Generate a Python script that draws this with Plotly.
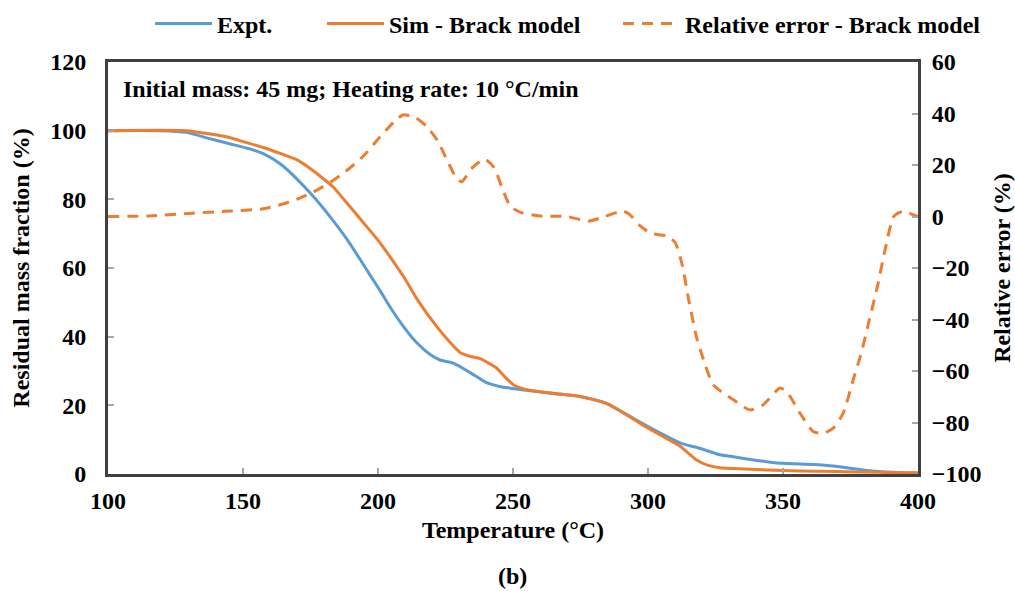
import plotly.graph_objects as go

# ---------------- data ----------------
temp_expt = [100, 119, 129, 138, 145, 152, 157.5, 164, 170, 176, 182, 188.4, 194.6, 197, 200.7,
             205, 209.4, 214, 219.3, 223, 227.9, 234, 240.2, 245, 249, 258.8, 266, 274.8,
             284.7, 293.3, 299.5, 306, 312, 319, 326.7, 331.6, 338, 344, 350, 356.3, 362,
             368.6, 374.8, 381, 388, 395, 400]
mass_expt = [100, 100, 99.5, 97.6, 96.2, 94.8, 93.3, 90.2, 85.9, 80.9, 75.2, 68.5, 61.0, 58.0, 53.5,
             48.0, 43.0, 38.5, 34.8, 33.2, 32.3, 29.6, 26.6, 25.5, 25.0, 24.0, 23.4, 22.6,
             20.6, 16.8, 14.0, 11.3, 9.0, 7.5, 5.6, 5.0, 4.2, 3.6, 3.1, 2.9, 2.8,
             2.3, 1.7, 1.0, 0.6, 0.4, 0.3]

temp_sim = [100, 129, 138, 145, 151, 157.5, 164, 170, 174, 178.5, 183.4, 188.4, 194.6, 200.7,
            206.9, 209.4, 215, 221.7, 226.5, 230.4, 234, 237.8, 241, 244, 247, 250.1, 254,
            258.8, 266, 274.8, 284.7, 293.3, 299.5, 306, 312, 318, 322, 326.7, 331.6, 344,
            356, 370, 385, 400]
mass_sim = [100, 100, 99.0, 98.0, 96.6, 95.1, 93.3, 91.5, 89.5, 86.8, 83.6, 79.0, 73.2, 67.4,
            60.5, 57.6, 50.3, 43.0, 38.5, 35.4, 34.3, 33.6, 32.3, 30.8, 28.3, 26.0, 24.8,
            24.1, 23.4, 22.6, 20.5, 16.6, 13.6, 10.7, 8.0, 4.1, 2.6, 1.8, 1.6, 1.2,
            0.9, 0.7, 0.5, 0.3]

temp_err = [100, 115, 130, 145, 157.5, 163, 169.9, 176, 182.2, 188, 194.6, 200, 206.9, 209.5,
            214, 218, 222, 226, 229, 231, 235, 239.5, 243, 246, 249, 253, 260, 270, 278,
            284, 290.5, 293, 297, 301, 307, 310, 312.5, 315, 318, 321, 324.2, 331.6, 337.8,
            342.7, 348.9, 351.4, 356.3, 361.2, 364.9, 368.6, 372.3, 376, 379, 382, 385, 388,
            391, 394.4, 398, 400]
rel_err = [0, 0.2, 1.2, 2.1, 3.0, 4.3, 6.7, 9.5, 13.2, 17.5, 23.5, 30.0, 37.8, 39.5,
           38.3, 35.0, 29.5, 21.0, 15.0, 13.5, 19.0, 22.3, 19.0, 11.0, 4.0, 1.5, 0.2, 0.0, -1.8,
           0.0, 2.1, 1.0, -3.5, -6.5, -7.6, -10.0, -18.0, -32.0, -47.0, -57.0, -65.4, -71.2, -75.1,
           -73.1, -66.6, -68.0, -76.4, -83.5, -84.2, -82.2, -76.4, -63.4, -53.0, -40.0, -27.0, -12.0,
           0.0, 2.0, 0.8, 0.0]

x_ticks = [100, 150, 200, 250, 300, 350, 400]
y_ticks = [0, 20, 40, 60, 80, 100, 120]
y2_ticks = [-100, -80, -60, -40, -20, 0, 20, 40, 60]

# ---------------- styling ----------------
FONT = "Liberation Serif"
BLUE = "#5B9BD5"
ORANGE = "#ED7D31"
FRAME = "#404040"
TICK = "#a6a6a6"
FS = 24

W, H = 1015, 593
ML, MR, MT, MB = 108, 97, 62, 119
PW, PH = W - ML - MR, H - MT - MB


def px(xp):
    return (xp - ML) / PW


def py(yp):
    return (H - MB - yp) / PH


bold = dict(family=FONT, size=FS, color="black", weight="bold")

fig = go.Figure()
fig.add_trace(go.Scatter(x=temp_expt, y=mass_expt, name="Expt.", mode="lines",
                         line=dict(color=BLUE, width=3, shape="spline", smoothing=0.6),
                         legend="legend"))
fig.add_trace(go.Scatter(x=temp_sim, y=mass_sim, name="Sim - Brack model", mode="lines",
                         line=dict(color=ORANGE, width=3, shape="spline", smoothing=0.6),
                         legend="legend2"))
fig.add_trace(go.Scatter(x=temp_err, y=rel_err, name="Relative error - Brack model", mode="lines",
                         yaxis="y2",
                         line=dict(color=ORANGE, width=3, dash="11px,8px", shape="spline", smoothing=0.6),
                         legend="legend3"))

axis_common = dict(showgrid=False, zeroline=False, showline=True, linecolor=FRAME, linewidth=3,
                   ticks="inside", ticklen=6, tickwidth=1.5, tickcolor=TICK, tickfont=bold,
                   automargin=False)

leg_common = dict(orientation="h", xanchor="left", yanchor="middle", y=py(24),
                  font=bold, bgcolor="rgba(0,0,0,0)", borderwidth=0, itemwidth=57)

fig.update_layout(
    width=W, height=H, autosize=False,
    margin=dict(l=ML, r=MR, t=MT, b=MB, pad=0, autoexpand=False),
    paper_bgcolor="white", plot_bgcolor="white",
    font=bold,
    showlegend=True,
    xaxis=dict(range=[100, 400], tickvals=x_ticks, mirror=True,
               title=dict(text="Temperature (°C)", font=bold, standoff=9),
               ticklabelstandoff=3, **axis_common),
    yaxis=dict(range=[0, 120], tickvals=y_ticks,
               title=dict(text="Residual mass fraction (%)", font=bold, standoff=14),
               ticklabelstandoff=14, **axis_common),
    yaxis2=dict(range=[-100, 60], tickvals=y2_ticks, overlaying="y", side="right",
                title=dict(text="Relative error (%)", font=bold, standoff=22),
                ticklabelstandoff=6, **axis_common),
    legend=dict(x=px(150), **leg_common),
    legend2=dict(x=px(322), **leg_common),
    legend3=dict(x=px(618), **leg_common),
    annotations=[
        dict(text="Initial mass: 45 mg; Heating rate: 10 °C/min", xref="paper", yref="paper",
             x=px(121), y=py(89), xanchor="left", yanchor="middle", showarrow=False, font=bold),
        dict(text="(<b>b</b>)", xref="paper", yref="paper", x=px(512), y=py(576),
             xanchor="center", yanchor="middle", showarrow=False,
             font=dict(family=FONT, size=24, color="black")),
    ],
)

fig.write_html("out.html")
